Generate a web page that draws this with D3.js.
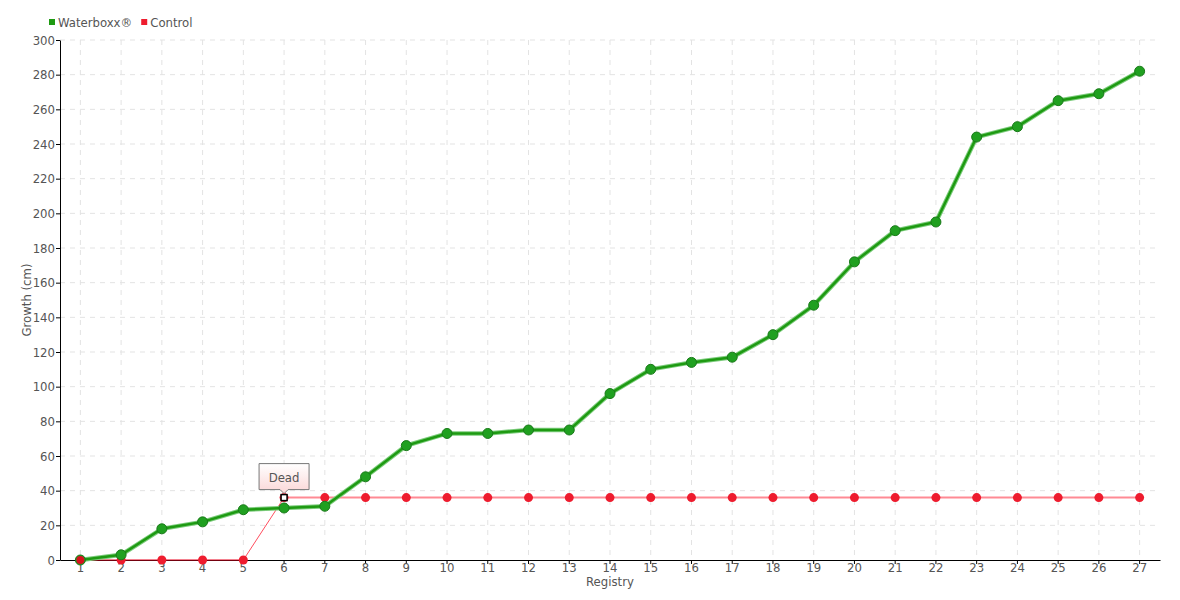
<!DOCTYPE html>
<html>
<head>
<meta charset="utf-8">
<script src="https://cdn.jsdelivr.net/npm/d3@7"></script>
<style>
body { margin: 0; background: #fff; }
text { font-family: "DejaVu Sans", sans-serif; font-stretch: condensed; }
</style>
</head>
<body>
<div id="chart"></div>
<script>
var registry = d3.range(1, 28).map(String);
var waterboxx = [0, 3, 18, 22, 29, 30, 31, 48, 66, 73, 73, 75, 75, 96, 110, 114, 117, 130, 147, 172, 190, 195, 244, 250, 265, 269, 282];
var control = [0, 0, 0, 0, 0, 36, 36, 36, 36, 36, 36, 36, 36, 36, 36, 36, 36, 36, 36, 36, 36, 36, 36, 36, 36, 36, 36];
var yTicks = d3.range(0, 301, 20);
var deadIndex = 5;

var width = 1180, height = 600;
var margin = {top: 40, right: 20, bottom: 40, left: 60};
var fs = "13px";

var svg = d3.select("#chart").append("svg")
    .attr("width", width)
    .attr("height", height);

var x = d3.scaleBand()
    .domain(registry)
    .range([margin.left, width - margin.right]);

var y = d3.scaleLinear()
    .domain([0, 300])
    .range([height - margin.bottom, margin.top]);

var cx = d => x(d) + x.bandwidth() / 2;

// grid
svg.append("g").selectAll("line").data(yTicks.slice(1)).enter().append("line")
    .attr("x1", margin.left).attr("x2", width - margin.right)
    .attr("y1", d => y(d)).attr("y2", d => y(d))
    .attr("stroke", "#e3e3e3").attr("stroke-dasharray", "5,5");
svg.append("g").selectAll("line").data(registry).enter().append("line")
    .attr("x1", cx).attr("x2", cx)
    .attr("y1", margin.top).attr("y2", height - margin.bottom)
    .attr("stroke", "#e3e3e3").attr("stroke-dasharray", "5,5");

// axes
var xAxis = svg.append("g")
    .attr("transform", "translate(0," + (height - margin.bottom) + ")")
    .call(d3.axisBottom(x).tickSize(4).tickSizeOuter(0));
var yAxis = svg.append("g")
    .attr("transform", "translate(" + margin.left + ",0)")
    .call(d3.axisLeft(y).tickValues(yTicks).tickSize(4).tickSizeOuter(0));
[xAxis, yAxis].forEach(function(g) {
    g.selectAll("text").attr("fill", "#555").style("font-size", fs);
    g.select(".domain").attr("stroke", "#000");
    g.selectAll(".tick line").attr("stroke", "#000");
});
xAxis.selectAll("text").attr("y", 3);
yAxis.selectAll("text").attr("x", -5);

svg.append("text")
    .attr("x", (margin.left + width - margin.right) / 2)
    .attr("y", 586)
    .attr("text-anchor", "middle")
    .attr("fill", "#555").style("font-size", fs)
    .text("Registry");
svg.append("text")
    .attr("transform", "translate(31," + ((margin.top + height - margin.bottom) / 2) + ") rotate(-90)")
    .attr("text-anchor", "middle")
    .attr("fill", "#555").style("font-size", fs)
    .text("Growth (cm)");

// control line
var ctrlLine = d3.line().x((d, i) => cx(registry[i])).y(d => y(d));
svg.append("path")
    .datum(control.slice(0, deadIndex))
    .attr("d", ctrlLine)
    .attr("fill", "none").attr("stroke", "#e8001c").attr("stroke-width", 1);
svg.append("path")
    .datum(control.slice(deadIndex - 1, deadIndex + 1))
    .attr("d", d3.line().x((d, i) => cx(registry[i + deadIndex - 1])).y(d => y(d)))
    .attr("fill", "none").attr("stroke", "#ff4d5e").attr("stroke-width", 1);
svg.append("path")
    .datum(control.slice(deadIndex))
    .attr("d", d3.line().x((d, i) => cx(registry[i + deadIndex])).y(d => y(d)))
    .attr("fill", "none").attr("stroke", "#ff8a94").attr("stroke-width", 2);
svg.append("g").selectAll("circle").data(control).enter().append("circle")
    .attr("cx", (d, i) => cx(registry[i]))
    .attr("cy", d => y(d))
    .attr("r", 4.5)
    .attr("fill", "#ee1c2e");

// waterboxx line
var wbLine = d3.line().x((d, i) => cx(registry[i])).y(d => y(d));
svg.append("path")
    .datum(waterboxx)
    .attr("d", wbLine)
    .attr("fill", "none").attr("stroke", "#7ccc7c").attr("stroke-width", 4.5);
svg.append("path")
    .datum(waterboxx)
    .attr("d", wbLine)
    .attr("fill", "none").attr("stroke", "#1e9a12").attr("stroke-width", 2.5);
svg.append("g").selectAll("circle").data(waterboxx).enter().append("circle")
    .attr("cx", (d, i) => cx(registry[i]))
    .attr("cy", d => y(d))
    .attr("r", 5)
    .attr("fill", "#20a020")
    .attr("stroke", "#1a7a1a").attr("stroke-width", 1);

// first control point drawn over green
svg.append("circle")
    .attr("cx", cx(registry[0])).attr("cy", y(control[0]))
    .attr("r", 4).attr("fill", "#d8101e");

// dead marker + label
var dx = cx(registry[deadIndex]), dy = y(control[deadIndex]);
svg.append("rect")
    .attr("x", dx - 3).attr("y", dy - 3)
    .attr("width", 6).attr("height", 6)
    .attr("fill", "#fff").attr("stroke", "#000").attr("stroke-width", 1.5);

var grad = svg.append("defs").append("linearGradient")
    .attr("id", "tipgrad").attr("x1", 0).attr("y1", 0).attr("x2", 0).attr("y2", 1);
grad.append("stop").attr("offset", "0%").attr("stop-color", "#ffffff");
grad.append("stop").attr("offset", "100%").attr("stop-color", "#fbd6d6");

var bw = 50, bh = 26, by = dy - 34;
svg.append("path")
    .attr("d", "M" + (dx - bw / 2) + "," + by +
        "h" + bw + "v" + bh + "h" + (-(bw / 2 - 4)) + "l-4,4l-4,-4h" + (-(bw / 2 - 4)) + "z")
    .attr("fill", "url(#tipgrad)").attr("stroke", "#777").attr("stroke-width", 1);
svg.append("text")
    .attr("x", dx).attr("y", by + 18)
    .attr("text-anchor", "middle")
    .attr("fill", "#555").style("font-size", fs)
    .text("Dead");

// legend
var legend = [{name: "Waterboxx®", color: "#1e9a12"}, {name: "Control", color: "#ee1c2e"}];
var lx = 49;
legend.forEach(function(l) {
    svg.append("rect").attr("x", lx).attr("y", 19).attr("width", 6).attr("height", 6).attr("fill", l.color);
    var t = svg.append("text").attr("x", lx + 9).attr("y", 27)
        .attr("fill", "#555").style("font-size", fs).text(l.name);
    lx += 9 + t.node().getComputedTextLength() + 9;
});
</script>
</body>
</html>
